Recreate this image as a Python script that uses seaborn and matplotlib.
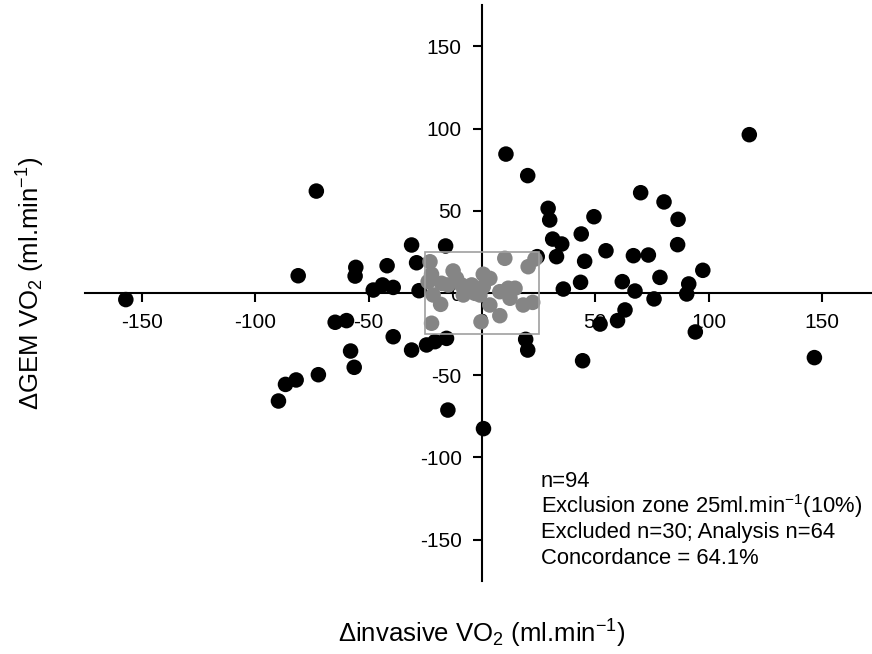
import pandas as pd
import matplotlib
matplotlib.use("Agg")
import matplotlib.pyplot as plt
import matplotlib.patches as patches
import seaborn as sns

# analysed points (outside exclusion zone)
x_in = [-157, -73, -81, -55.6, -55.9, -41.8, -47.9, -43.8, -39.1, -64.7,
        -59.7, -39.1, -57.9, -56.3, -72.1, -81.9, -86.6, -89.7, -31, -16,
        -28.8, -27.7, -31, -24.4, -20.7, -15.6, -15, 0.7, 117.9, 10.6,
        20.2, 70, 80.3, 86.5, 49.4, 29.2, 29.9, 43.8, 31.2, 35.2,
        32.9, 24.4, 54.7, 45.3, 66.8, 73.4, 86.3, 97.4, 78.5, 61.9,
        43.5, 35.9, 67.5, 91.2, 90.3, 75.9, 63.1, 59.8, 52.1, 94.1,
        146.6, 44.4, 19.3, 20.2]
y_in = [-4, 62, 10.5, 15.6, 10.3, 16.6, 1.8, 4.9, 3.4, -17.8,
        -16.8, -26.6, -35.3, -45.2, -49.7, -52.9, -55.6, -65.7, 29.2, 28.6,
        18.4, 1.4, -34.7, -31.6, -29.6, -27.6, -71.2, -82.5, 96.3, 84.5,
        71.4, 61, 55.4, 44.8, 46.4, 51.5, 44.4, 35.9, 32.8, 29.8,
        22.1, 22.1, 25.7, 19.3, 22.7, 23.1, 29.4, 13.8, 9.5, 6.9,
        6.5, 2.4, 1.2, 5.5, -0.6, -3.6, -10.3, -16.8, -18.9, -23.7,
        -39.3, -41.2, -28.2, -34.7]

# excluded points (inside 25 ml/min zone)
x_ex = [-22.9, -22.2, -21.5, -18.2, -22.2, -17.8, -12.7, -11.2, -14.9, -8.2,
        -4.5, -3.1, 0.6, 3.5, 0.6, -0.9, 3.5, 7.9, 11.6, 14.6,
        12.4, 7.9, -0.4, 10.1, 20.4, 23.4, 18.2, 22.4, -23.7, -9.0]
y_ex = [19.0, 11.4, -1.2, -6.9, -18.4, 5.9, 13.4, 8.9, 4.9, -1.2,
        4.9, -0.2, 11.4, 8.9, 3.8, -1.2, -7.3, 0.8, 2.9, 2.9,
        -3.2, -13.8, -17.5, 21.1, 16.0, 20.7, -7.3, -5.7, 6.9, 4.9]

ticks = [-150, -100, -50, 0, 50, 100, 150]
notes = ["n=94",
         "Exclusion zone 25ml.min$^{-1}$(10%)",
         "Excluded n=30; Analysis n=64",
         "Concordance = 64.1%"]

df = pd.concat([
    pd.DataFrame({"x": x_in, "y": y_in, "group": "analysed"}),
    pd.DataFrame({"x": x_ex, "y": y_ex, "group": "excluded"}),
], ignore_index=True)

sns.set_style("white")
plt.rcParams["font.family"] = ["Liberation Sans", "DejaVu Sans"]
plt.rcParams["mathtext.default"] = "regular"
plt.rcParams["axes.unicode_minus"] = False
plt.rcParams["text.color"] = "black"

fig = plt.figure(figsize=(8.72, 6.54), dpi=100)
ax = fig.add_axes([85/872, 1 - 580.7/654, 787/872, 575.4/654])

sns.scatterplot(data=df, x="x", y="y", hue="group",
                palette={"analysed": "black", "excluded": "#858585"},
                s=125, linewidth=0, legend=False, ax=ax, zorder=3)

ax.add_patch(patches.Rectangle((-25, -25), 50, 50, fill=False,
                               edgecolor="#a0a0a0", lw=1.2, zorder=5))

ax.set_xlim(-175, 172)
ax.set_ylim(-175, 175)
ax.spines["left"].set_position(("data", 0))
ax.spines["bottom"].set_position(("data", 0))
ax.spines["top"].set_visible(False)
ax.spines["right"].set_visible(False)
for s in ["left", "bottom"]:
    ax.spines[s].set_linewidth(1.5)
    ax.spines[s].set_color("black")
ax.set_xticks(ticks)
ax.set_yticks(ticks)
ax.set_xticklabels([str(t) for t in ticks])
ax.set_yticklabels([str(t) for t in ticks])
ax.tick_params(direction="out", length=6.5, width=1.5, labelsize=15, pad=8,
               colors="black", bottom=True, left=True)
ax.set_xlabel("")
ax.set_ylabel("")

fig.text(482/872, 1 - 642.5/654, "\u0394invasive VO$_2$ (ml.min$^{-1}$)",
         ha="center", va="baseline", fontsize=18.5)
fig.text(31/872, 1 - 283/654, "\u0394GEM VO$_2$ (ml.min$^{-1}$)",
         ha="center", va="center", rotation=90, fontsize=18.5)

for i, line in enumerate(notes):
    fig.text(541/872, 1 - (487 + 25.6*i)/654, line, ha="left",
             va="baseline", fontsize=15.8)

fig.savefig("out.png", dpi=100)
